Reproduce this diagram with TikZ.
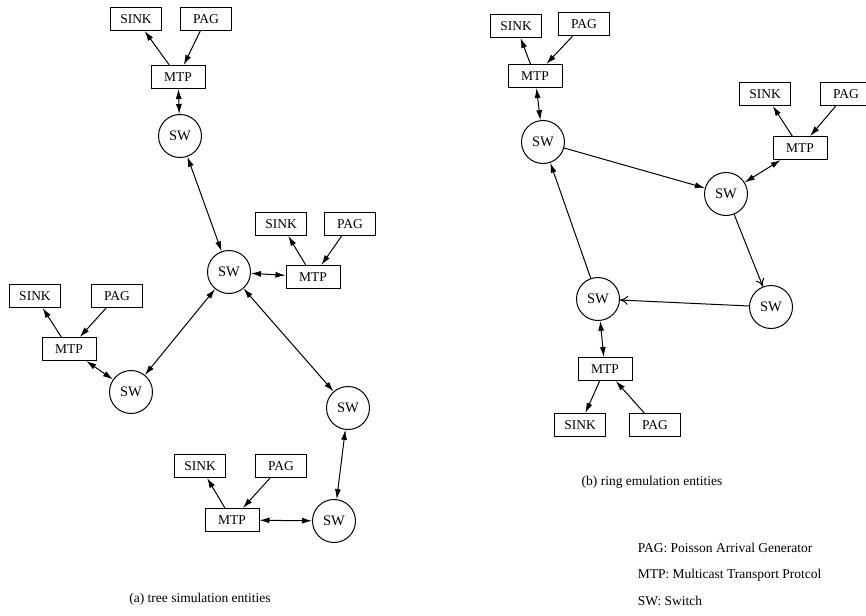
\documentclass[tikz,border=0pt]{standalone}
\usepackage{fontspec}
\setmainfont{Liberation Serif}
\usetikzlibrary{arrows.meta}
\begin{document}
\begin{tikzpicture}[x=1pt,y=-1pt,line width=1pt,
	box/.style={draw,minimum width=51pt,minimum height=23pt,inner sep=0pt,font=\fontsize{13.5}{13.5}\selectfont},
	mtp/.style={box,minimum width=54pt},
	sw/.style={draw,circle,minimum size=43pt,inner sep=0pt,font=\fontsize{14.5}{14.5}\selectfont},
	fw/.style={-{Latex[length=10pt,width=6pt]}},
	bi/.style={{Latex[length=10pt,width=6pt]}-{Latex[length=10pt,width=6pt]}},
	op/.style={-{To[length=8pt,width=9pt]}},
	captxt/.style={font=\fontsize{13.5}{13.5}\selectfont}]
	\useasboundingbox (0,0) rectangle (866,615);
	% (a) tree
	\node[box] (sinkA) at (136,19) {SINK};
	\node[box] (pagA) at (206,19) {PAG};
	\node[mtp] (mtpA) at (178,77) {MTP};
	\node[sw] (swA) at (180,136) {SW};
	\node[sw] (swC) at (229,272) {SW};
	\node[box] (sinkB) at (281,224) {SINK};
	\node[box] (pagB) at (350,224) {PAG};
	\node[mtp] (mtpB) at (313,277) {MTP};
	\node[box] (sinkL) at (35,296) {SINK};
	\node[box] (pagL) at (117,296) {PAG};
	\node[mtp] (mtpL) at (69,349) {MTP};
	\node[sw] (swL) at (131,392) {SW};
	\node[sw] (swR) at (348,408) {SW};
	\node[box] (sinkD) at (200,466) {SINK};
	\node[box] (pagD) at (281,466) {PAG};
	\node[mtp] (mtpD) at (232,520) {MTP};
	\node[sw] (swD) at (334,521) {SW};
	\draw[fw] (mtpA) -- (sinkA);
	\draw[fw] (pagA) -- (mtpA);
	\draw[bi] (mtpA) -- (swA);
	\draw[bi] (swA) -- (swC);
	\draw[bi] (swC) -- (mtpB);
	\draw[fw] (mtpB) -- (sinkB);
	\draw[fw] (pagB) -- (mtpB);
	\draw[bi] (swC) -- (swL);
	\draw[bi] (swC) -- (swR);
	\draw[fw] (mtpL) -- (sinkL);
	\draw[fw] (pagL) -- (mtpL);
	\draw[bi] (mtpL) -- (swL);
	\draw[bi] (swR) -- (swD);
	\draw[bi] (mtpD) -- (swD);
	\draw[fw] (mtpD) -- (sinkD);
	\draw[fw] (pagD) -- (mtpD);
	\node[captxt] (capA) at (200,599) {(a) tree simulation entities};
	% (b) ring
	\node[box] (sinkT) at (516,26) {SINK};
	\node[box] (pagT) at (584,24) {PAG};
	\node[mtp] (mtpT) at (535,76) {MTP};
	\node[sw] (swT) at (543,142) {SW};
	\node[box] (sinkE) at (765,94) {SINK};
	\node[box] (pagE) at (846,94) {PAG};
	\node[mtp] (mtpE) at (800,148) {MTP};
	\node[sw] (swE) at (726,194) {SW};
	\node[sw] (swS) at (771,307) {SW};
	\node[sw] (swM) at (598,299) {SW};
	\node[mtp] (mtpM) at (605,369) {MTP};
	\node[box] (sinkM) at (580,425) {SINK};
	\node[box] (pagM) at (655,425) {PAG};
	\draw[fw] (mtpT) -- (sinkT);
	\draw[fw] (pagT) -- (mtpT);
	\draw[bi] (mtpT) -- (swT);
	\draw[fw] (swT) -- (swE);
	\draw[bi] (swE) -- (mtpE);
	\draw[fw] (mtpE) -- (sinkE);
	\draw[fw] (pagE) -- (mtpE);
	\draw[op] (swE) -- (swS);
	\draw[op] (swS) -- (swM);
	\draw[fw] (swM) -- (swT);
	\draw[bi] (swM) -- (mtpM);
	\draw[fw] (mtpM) -- (sinkM);
	\draw[fw] (pagM) -- (mtpM);
	\node[captxt] (capB) at (652,482) {(b) ring emulation entities};
	\node[captxt,anchor=west] (legP) at (634,548) {PAG: Poisson Arrival Generator};
	\node[captxt,anchor=west] (legM) at (634,575) {MTP: Multicast Transport Protcol};
	\node[captxt,anchor=west] (legS) at (634,601) {SW: Switch};
\end{tikzpicture}
\end{document}
